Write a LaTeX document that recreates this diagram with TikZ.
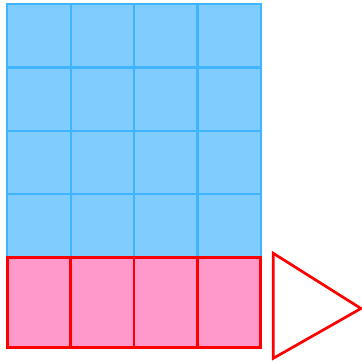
\documentclass[tikz,border=0pt]{standalone}
\definecolor{bluefill}{HTML}{80CCFF}
\definecolor{bluestroke}{HTML}{40B4FF}
\definecolor{pinkfill}{HTML}{FF99CC}
\definecolor{redstroke}{HTML}{FF0000}
\tikzset{
  bluecell/.style={fill=bluefill, draw=bluestroke, line width=2.3pt},
  pinkcell/.style={fill=pinkfill, draw=redstroke, line width=2.7pt},
  tri/.style={fill=white, draw=redstroke, line width=2.7pt, line join=miter}
}
\begin{document}
\begin{tikzpicture}[x=1pt,y=-1pt]
\useasboundingbox (0,0) rectangle (362,362);
\foreach \i in {0,...,3}{
  \foreach \j in {0,...,3}{
    \draw[bluecell] ({7.3+63.35*\i},{4+63.43*\j}) rectangle ++(63.35,63.43);
  }
}
\foreach \i in {0,...,3}{
  \draw[pinkcell] ({7.3+63.35*\i},257.7) rectangle ++(63.35,90);
}
\draw[tri] (273.3,253.3) -- (361,308.5) -- (273.3,358.3) -- cycle;
\end{tikzpicture}
\end{document}
